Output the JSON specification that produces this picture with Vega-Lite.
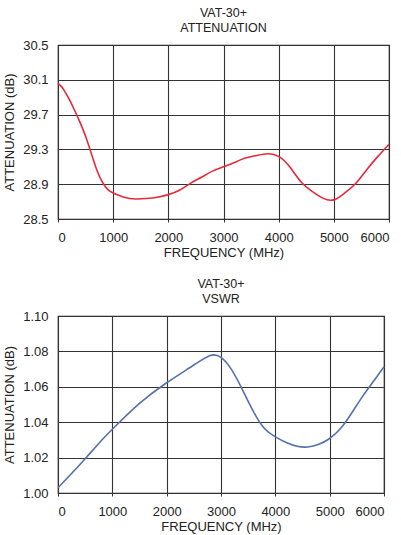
{
  "$schema": "https://vega.github.io/schema/vega-lite/v6.json",
  "background": "white",
  "padding": {"left": 3, "top": 5, "right": 0, "bottom": 0},
  "bounds": "flush",
  "spacing": 97,
  "config": {
    "font": "Liberation Sans",
    "view": {"stroke": "#222", "strokeWidth": 1.2},
    "axis": {
      "grid": true,
      "gridColor": "#333",
      "gridWidth": 1.1,
      "gridOpacity": 1,
      "domain": false,
      "labelFont": "Liberation Sans",
      "labelFontSize": 13,
      "labelColor": "#222",
      "titleFont": "Liberation Sans",
      "titleFontSize": 13,
      "titleFontWeight": "normal",
      "titleColor": "#222"
    },
    "axisX": {"ticks": true, "tickSize": 3, "tickColor": "#333", "labelPadding": 9, "titlePadding": 2, "labelOverlap": false, "labelBound": false},
    "axisY": {"ticks": false, "labelPadding": 10, "titlePadding": 6},
    "title": {"font": "Liberation Sans", "fontSize": 12.5, "fontWeight": "normal", "color": "#222", "offset": 5, "lineHeight": 15}
  },
  "vconcat": [
    {
      "title": {"text": ["VAT-30+", "ATTENUATION"]},
      "width": 331,
      "height": 174,
      "data": {"values": [
        {"f": 0, "v": 30.06}, {"f": 50, "v": 30.03}, {"f": 100, "v": 29.99}, {"f": 200, "v": 29.88},
        {"f": 300, "v": 29.75}, {"f": 400, "v": 29.61}, {"f": 500, "v": 29.45}, {"f": 600, "v": 29.26},
        {"f": 700, "v": 29.07}, {"f": 800, "v": 28.93}, {"f": 900, "v": 28.84}, {"f": 1000, "v": 28.80},
        {"f": 1200, "v": 28.75}, {"f": 1400, "v": 28.73}, {"f": 1600, "v": 28.735}, {"f": 1800, "v": 28.75},
        {"f": 2000, "v": 28.78}, {"f": 2200, "v": 28.83}, {"f": 2400, "v": 28.91}, {"f": 2600, "v": 28.98},
        {"f": 2800, "v": 29.05}, {"f": 3000, "v": 29.10}, {"f": 3200, "v": 29.15}, {"f": 3400, "v": 29.20},
        {"f": 3600, "v": 29.23}, {"f": 3800, "v": 29.25}, {"f": 4000, "v": 29.22}, {"f": 4200, "v": 29.10},
        {"f": 4400, "v": 28.93}, {"f": 4600, "v": 28.82}, {"f": 4800, "v": 28.74}, {"f": 5000, "v": 28.72},
        {"f": 5200, "v": 28.80}, {"f": 5400, "v": 28.91}, {"f": 5600, "v": 29.07}, {"f": 5800, "v": 29.22},
        {"f": 6000, "v": 29.36}
      ]},
      "mark": {"type": "line", "color": "#e8283a", "strokeWidth": 1.6, "interpolate": "natural"},
      "encoding": {
        "x": {"field": "f", "type": "quantitative", "scale": {"domain": [0, 6000], "nice": false},
              "axis": {"values": [0, 1000, 2000, 3000, 4000, 5000, 6000], "format": "d", "title": "FREQUENCY (MHz)"}},
        "y": {"field": "v", "type": "quantitative", "scale": {"domain": [28.5, 30.5], "nice": false, "zero": false},
              "axis": {"values": [28.5, 28.9, 29.3, 29.7, 30.1, 30.5], "format": ".1f", "title": "ATTENUATION (dB)"}}
      }
    },
    {
      "title": {"text": ["VAT-30+", "VSWR"]},
      "width": 326,
      "height": 177,
      "data": {"values": [
        {"f": 0, "v": 1.003}, {"f": 250, "v": 1.011}, {"f": 500, "v": 1.0194}, {"f": 750, "v": 1.028}, {"f": 1000, "v": 1.036},
        {"f": 1500, "v": 1.0506}, {"f": 2000, "v": 1.0623}, {"f": 2500, "v": 1.0723}, {"f": 2800, "v": 1.0777},
        {"f": 3000, "v": 1.0766}, {"f": 3200, "v": 1.0694}, {"f": 3400, "v": 1.058}, {"f": 3600, "v": 1.0458},
        {"f": 3800, "v": 1.0364}, {"f": 4000, "v": 1.0317}, {"f": 4200, "v": 1.0285}, {"f": 4400, "v": 1.0264},
        {"f": 4600, "v": 1.026}, {"f": 4800, "v": 1.0275}, {"f": 5000, "v": 1.0308}, {"f": 5200, "v": 1.0364},
        {"f": 5400, "v": 1.0449}, {"f": 5600, "v": 1.0543}, {"f": 5800, "v": 1.0628}, {"f": 6000, "v": 1.0713}
      ]},
      "mark": {"type": "line", "color": "#5572a8", "strokeWidth": 1.6, "interpolate": "natural"},
      "encoding": {
        "x": {"field": "f", "type": "quantitative", "scale": {"domain": [0, 6000], "nice": false},
              "axis": {"values": [0, 1000, 2000, 3000, 4000, 5000, 6000], "format": "d", "title": "FREQUENCY (MHz)"}},
        "y": {"field": "v", "type": "quantitative", "scale": {"domain": [1.0, 1.1], "nice": false, "zero": false},
              "axis": {"values": [1.0, 1.02, 1.04, 1.06, 1.08, 1.1], "format": ".2f", "title": "ATTENUATION (dB)"}}
      }
    }
  ]
}
